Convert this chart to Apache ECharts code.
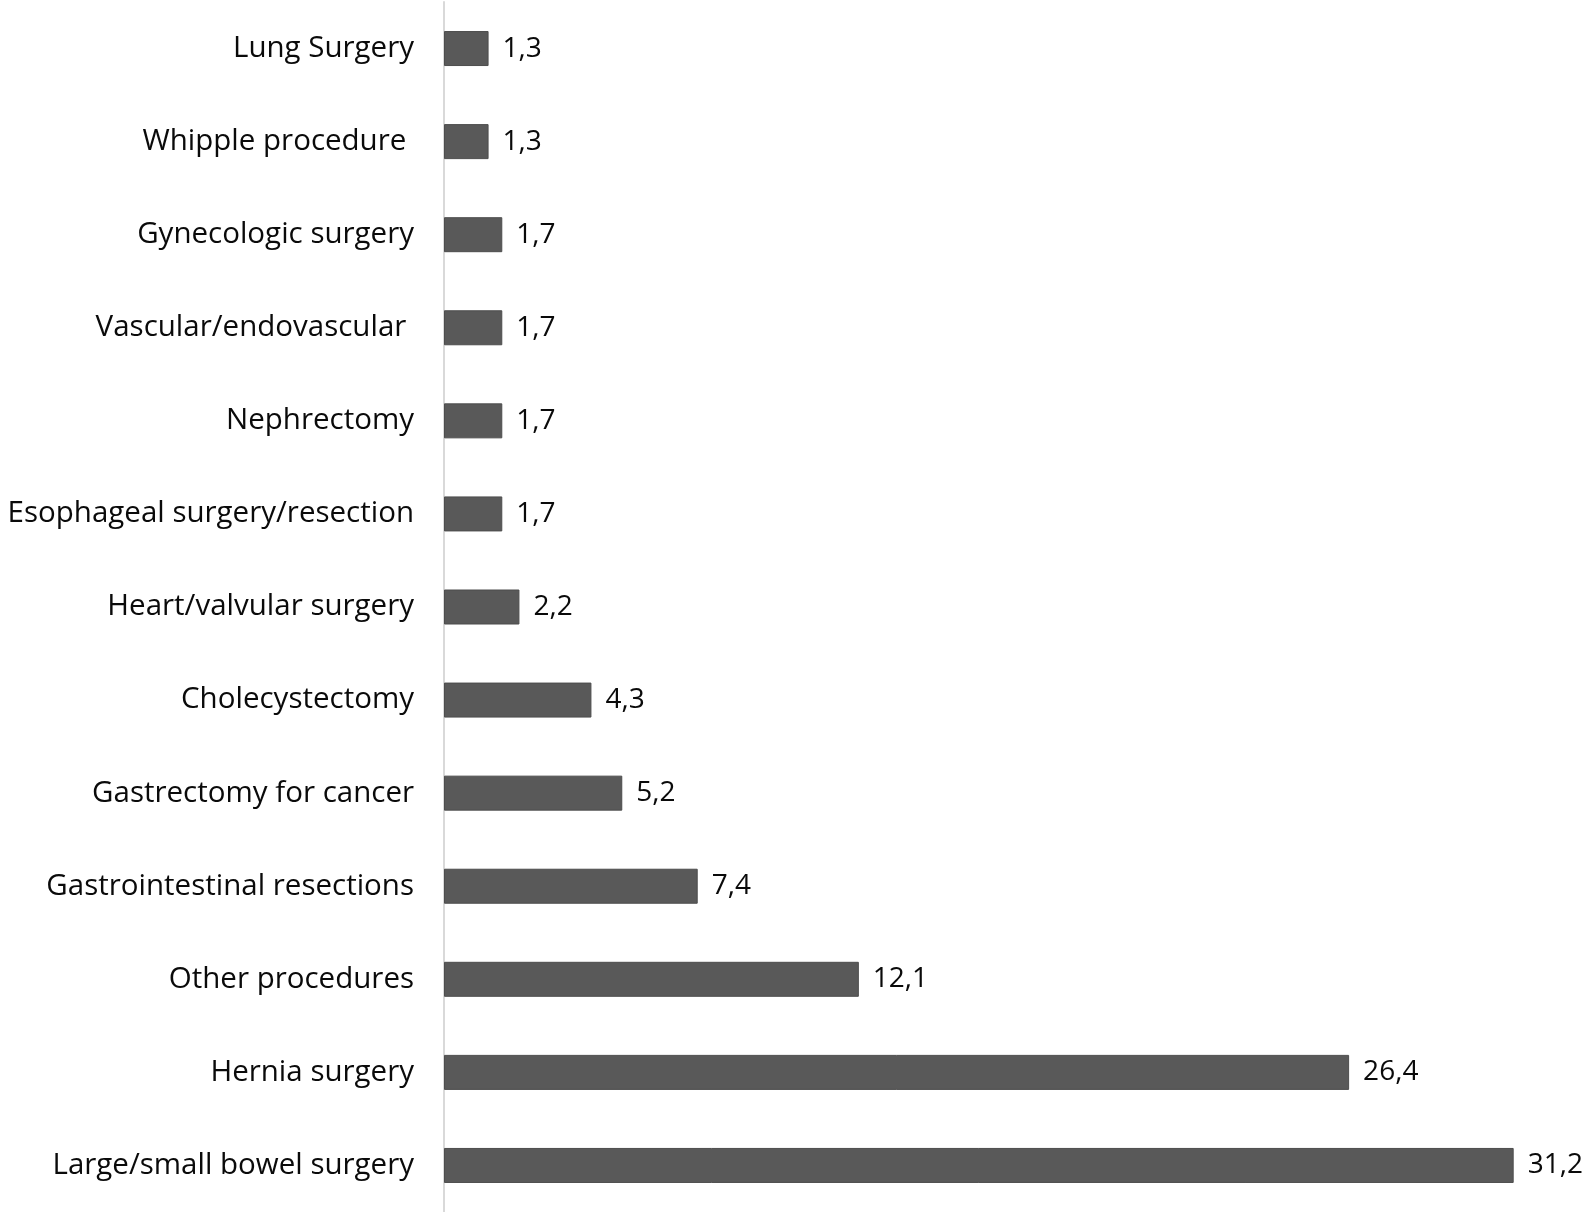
<!DOCTYPE html>
<html>
<head>
<meta charset="utf-8">
<script src="https://cdn.jsdelivr.net/npm/echarts@6/dist/echarts.min.js"></script>
<style>
html,body{margin:0;padding:0;background:#fff;}
#chart{width:1593px;height:1212px;}
</style>
</head>
<body>
<div id="chart"></div>
<script>
const categories = [
  "Lung Surgery",
  "Whipple procedure ",
  "Gynecologic surgery",
  "Vascular/endovascular ",
  "Nephrectomy",
  "Esophageal surgery/resection",
  "Heart/valvular surgery",
  "Cholecystectomy",
  "Gastrectomy for cancer",
  "Gastrointestinal resections",
  "Other procedures",
  "Hernia surgery",
  "Large/small bowel surgery"
];
const values = [1.3, 1.3, 1.7, 1.7, 1.7, 1.7, 2.2, 4.3, 5.2, 7.4, 12.1, 26.4, 31.2];

const chart = echarts.init(document.getElementById('chart'), null, {renderer: 'canvas'});
chart.setOption({
  animation: false,
  backgroundColor: '#ffffff',
  grid: {left: 444, top: 2, bottom: 0, right: 20, outerBoundsMode: 'none', containLabel: false},
  xAxis: {
    type: 'value', min: 0, max: 32.93, show: false
  },
  yAxis: {
    type: 'category',
    data: categories,
    inverse: true,
    axisLine: {show: true, lineStyle: {color: '#d9d9d9', width: 2}},
    axisTick: {show: false},
    splitLine: {show: false},
    axisLabel: {
      margin: 30,
      fontSize: 29.5,
      fontFamily: '"Open Sans", Lato, sans-serif',
      color: '#0a0a0a'
    }
  },
  series: [{
    type: 'bar',
    data: values,
    barWidth: 35,
    itemStyle: {color: '#595959', borderColor: '#4d4d4d', borderWidth: 1},
    label: {
      show: true,
      position: 'right',
      distance: 14,
      fontSize: 28,
      fontFamily: '"Open Sans", Lato, sans-serif',
      color: '#0a0a0a',
      formatter: p => String(p.value).replace('.', ',')
    }
  }]
});
</script>
</body>
</html>
